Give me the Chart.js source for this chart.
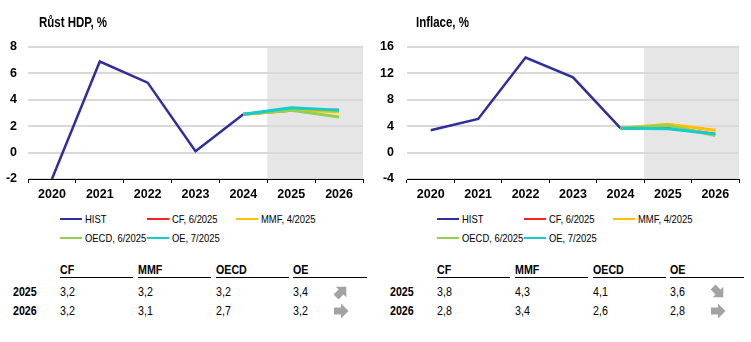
<!DOCTYPE html>
<html>
<head>
<meta charset="utf-8">
<script src="https://cdn.jsdelivr.net/npm/chart.js@4"></script>
<style>
  body { margin: 0; background: #fff; }
  #wrap { position: relative; width: 751px; height: 342px; overflow: hidden;
          font-family: 'Liberation Sans', Arial, sans-serif; color: #000; }
  canvas { position: absolute; top: 0; }
  .abs { position: absolute; white-space: nowrap; }
  .nar { transform: scaleX(0.82); transform-origin: 0 50%; }
  .title { font-weight: bold; font-size: 14px; line-height: 16px; }
  .leg { font-size: 11.5px; line-height: 14px; }
  .legline { position: absolute; width: 22px; height: 2px; }
  .hdr { font-weight: bold; font-size: 13px; line-height: 14px; }
  .uline { position: absolute; height: 1px; background: #000; }
  .cell { font-size: 13px; line-height: 14px; }
  .rowlab { font-weight: bold; font-size: 13px; line-height: 14px; }
</style>
</head>
<body>
<div id="wrap">
  <canvas id="gdpChart" width="375" height="205" style="left:0px;width:375px;height:205px"></canvas>
  <canvas id="infChart" width="374" height="205" style="left:377px;width:374px;height:205px"></canvas>
</div>
<script>
const years = ['2020', '2021', '2022', '2023', '2024', '2025', '2026'];
const seriesNames = ['HIST', 'CF, 6/2025', 'MMF, 4/2025', 'OECD, 6/2025', 'OE, 7/2025'];
const seriesColors = ['#2e2e9e', '#ff2020', '#ffc000', '#92d050', '#14cccc'];
const forecastLabels = ['CF', 'MMF', 'OECD', 'OE'];
const forecastYears = ['2025', '2026'];

// Rust HDP
const gdpHist = [-2.0, 6.9, 5.3, 0.1, 2.9];
const gdpCF = [3.2, 3.2];
const gdpMMF = [3.2, 3.1];
const gdpOECD = [3.2, 2.7];
const gdpOE = [3.4, 3.2];
const gdpTicks = [-2, 0, 2, 4, 6, 8];
const gdpArrows = ['up', 'flat'];

// Inflace
const infHist = [3.4, 5.1, 14.4, 11.4, 3.7];
const infCF = [3.8, 2.8];
const infMMF = [4.3, 3.4];
const infOECD = [4.1, 2.6];
const infOE = [3.6, 2.8];
const infTicks = [-4, 0, 4, 8, 12, 16];
const infArrows = ['down', 'flat'];

Chart.defaults.font.family = "'Liberation Sans', Arial, sans-serif";
Chart.defaults.color = '#000';

const shadePlugin = {
    id: 'shade',
    beforeDraw(chart) {
        const x = chart.scales.x;
        const area = chart.chartArea;
        const from = (x.getPixelForValue(4) + x.getPixelForValue(5)) / 2;
        const ctx = chart.ctx;
        ctx.save();
        ctx.fillStyle = '#e6e6e6';
        ctx.fillRect(from, area.top, area.right - from, area.bottom - area.top);
        ctx.restore();
    }
};

function buildDatasets(hist, forecasts) {
    const sets = [{
        data: hist.concat(forecastYears.map(() => null)),
        borderColor: seriesColors[0], borderWidth: 2.5, order: 5
    }];
    forecasts.forEach((f, i) => {
        const data = hist.map(() => null);
        data[hist.length - 1] = hist[hist.length - 1];
        sets.push({
            data: data.concat(f),
            borderColor: seriesColors[i + 1], borderWidth: 3, order: 4 - i
        });
    });
    return sets;
}

function renderChart(id, hist, forecasts, ticks, axisWidth) {
    const ctx = document.getElementById(id).getContext('2d');
    new Chart(ctx, {
        type: 'line',
        data: { labels: years, datasets: buildDatasets(hist, forecasts) },
        options: {
            responsive: false,
            animation: false,
            layout: { padding: { top: 47, right: 12, left: 0, bottom: 0 } },
            elements: { point: { radius: 0 }, line: { tension: 0 } },
            plugins: { legend: { display: false }, tooltip: { enabled: false } },
            scales: {
                x: {
                    offset: true,
                    grid: { offset: true, drawOnChartArea: false, drawTicks: true, tickLength: 4, color: '#000', lineWidth: 1 },
                    border: { display: true, color: '#000', width: 1 },
                    ticks: { font: { size: 12.5, weight: 'bold' }, padding: 4, maxRotation: 0 },
                    afterFit(scale) { scale.height = 26; }
                },
                y: {
                    min: ticks[0], max: ticks[ticks.length - 1],
                    afterBuildTicks(scale) { scale.ticks = ticks.map(v => ({ value: v })); },
                    grid: { color: '#d9d9d9', lineWidth: 2, drawTicks: false },
                    border: { display: false },
                    ticks: { font: { size: 12.5, weight: 'bold' }, padding: axisWidth - 17 },
                    afterFit(scale) { scale.width = axisWidth; }
                }
            }
        },
        plugins: [shadePlugin]
    });
}

function arrowSvg(dir) {
    const rot = dir === 'up' ? -45 : dir === 'down' ? 45 : 0;
    return '<svg width="16" height="16" viewBox="0 0 16 16"><g transform="rotate(' + rot + ' 8 8)">' +
        '<polygon points="1,4.5 8,4.5 8,0.5 15.5,8 8,15.5 8,11.5 1,11.5" fill="#a3a3a3"/></g></svg>';
}

function addEl(cls, x, y, html, width) {
    const d = document.createElement('div');
    d.className = 'abs ' + cls;
    d.style.left = x + 'px';
    d.style.top = y + 'px';
    if (width) d.style.width = width + 'px';
    d.innerHTML = html;
    document.getElementById('wrap').appendChild(d);
    return d;
}

function renderPanel(ox, title, forecasts, arrows) {
    addEl('title nar', ox + 39, 14, title);
    // legend
    const legX = [60, 147, 236];
    seriesNames.forEach((name, i) => {
        const x = ox + legX[i % 3];
        const y = i < 3 ? 212 : 231;
        const line = addEl('legline', x, y + 6, '');
        line.style.background = seriesColors[i];
        addEl('leg nar', x + 25, y, name);
    });
    // table
    const colX = [60, 138, 216, 293];
    forecastLabels.forEach((lab, i) => {
        addEl('hdr nar', ox + colX[i], 263, lab);
        addEl('uline', ox + colX[i], 277, '', i === 3 ? 74 : 73);
    });
    forecastYears.forEach((yr, r) => {
        const y = r === 0 ? 285 : 304;
        addEl('rowlab nar', ox + 13, y, yr);
        forecasts.forEach((f, i) => {
            addEl('cell nar', ox + colX[i], y, f[r].toFixed(1).replace('.', ','));
        });
        addEl('', ox + 333, y - 1, arrowSvg(arrows[r]));
    });
}

renderChart('gdpChart', gdpHist, [gdpCF, gdpMMF, gdpOECD, gdpOE], gdpTicks, 28);
renderChart('infChart', infHist, [infCF, infMMF, infOECD, infOE], infTicks, 30);
renderPanel(0, 'Růst HDP, %', [gdpCF, gdpMMF, gdpOECD, gdpOE], gdpArrows);
renderPanel(377, 'Inflace, %', [infCF, infMMF, infOECD, infOE], infArrows);
</script>
</body>
</html>
